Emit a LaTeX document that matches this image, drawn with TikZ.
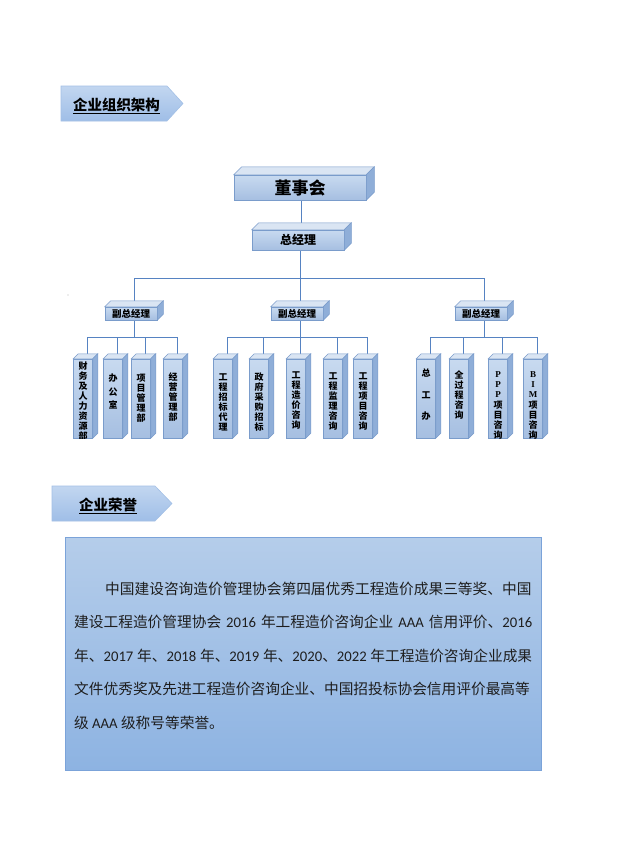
\documentclass[tikz,border=0pt]{standalone}
\usepackage{fontspec}
\setmainfont{Liberation Serif}
\newfontfamily\cjk{Noto Sans CJK SC}
\newfontfamily\lat{Carlito}
\newfontfamily\latb{Liberation Serif}
\usetikzlibrary{calc}
\pgfdeclarelayer{bg}
\pgfsetlayers{bg,main}
\definecolor{frontTop}{HTML}{C8DAF0}
\definecolor{frontBot}{HTML}{A6BFE1}
\definecolor{topFace}{HTML}{DAE5F3}
\definecolor{sideFace}{HTML}{8FAED8}
\definecolor{edgeC}{HTML}{7A9CCB}
\definecolor{connC}{HTML}{5683C2}
\definecolor{honTop}{HTML}{B5CDEA}
\definecolor{honBot}{HTML}{8DB3E2}
\definecolor{honEdge}{HTML}{7BA3D9}
\definecolor{hdrTop}{HTML}{C2D6F0}
\definecolor{hdrBot}{HTML}{9FBEE7}
\definecolor{hdrEdge}{HTML}{A3C0E6}
\definecolor{txtC}{HTML}{1E1E1E}
\tikzset{
  frontbox/.style={draw=edgeC, line width=0.5pt, top color=frontTop, bottom color=frontBot, inner sep=0pt},
  dept/.style={frontbox, minimum width=19pt, minimum height=79pt},
  vicebox/.style={frontbox, minimum width=52pt, minimum height=13pt, font=\cjk\bfseries\fontsize{9.5}{10}\selectfont},
  vtxt/.style={inner sep=0pt, align=center, text=black},
  conn/.style={draw=connC, line width=0.9pt},
  topf/.style={fill=topFace, draw=edgeC, line width=0.5pt},
  sidef/.style={fill=sideFace, draw=edgeC, line width=0.5pt},
  hdr/.style={top color=hdrTop, bottom color=hdrBot, draw=hdrEdge, line width=0.6pt},
  hdrtxt/.style={inner sep=0pt, font=\cjk\bfseries\fontsize{14.5}{16}\selectfont, text=black},
  body/.style={inner sep=0pt, anchor=base west, text=txtC, font=\cjk\fontsize{14.7}{17}\selectfont},
}
\newcommand\cubefaces[2]{%
  \filldraw[topf] (#1.north west) -- ++(#2,-#2) -- ($(#1.north east)+(#2,-#2)$) -- (#1.north east) -- cycle;
  \filldraw[sidef] (#1.north east) -- ++(#2,-#2) -- ($(#1.south east)+(#2,-#2)$) -- (#1.south east) -- cycle;
}
\newcommand\deptbox[5]{%
  \node[dept] (#1) at (#2,398.5) {};
  \cubefaces{#1}{5}
  \begin{scope}
    \clip (#1.north west) rectangle (#1.south east);
    \node[vtxt, font=\cjk\bfseries\fontsize{9}{#4}\selectfont, anchor=north] (#1t) at (#2,#3-4) {#5};
  \end{scope}
}
\begin{document}
\begin{tikzpicture}[x=1pt,y=-1pt]
\begin{pgfonlayer}{bg}
\fill[white] (0,0) rectangle (622,855);
\end{pgfonlayer}
\useasboundingbox (0,0) rectangle (622,855);

% header 1
\shadedraw[hdr] (61,86) -- (167,86) -- (183,103.5) -- (167,121) -- (61,121) -- cycle;
\node[hdrtxt] (h1) at (116.5,106) {\underline{企业组织架构}};

% top boxes
\node[frontbox, minimum width=132pt, minimum height=25pt, font=\cjk\bfseries\fontsize{17}{18}\selectfont] (dsh) at (300,187.5) {董事会};
\cubefaces{dsh}{8}
\node[frontbox, minimum width=92pt, minimum height=20pt, font=\cjk\bfseries\fontsize{12}{13}\selectfont] (zjl) at (298,240) {总经理};
\cubefaces{zjl}{7}

% vice boxes
\node[vicebox] (v1) at (131,313.5) {副总经理};
\cubefaces{v1}{6}
\node[vicebox] (v2) at (297,313.5) {副总经理};
\cubefaces{v2}{6}
\node[vicebox] (v3) at (481,313.5) {副总经理};
\cubefaces{v3}{6}

% departments
\deptbox{a1}{83}{366}{10}{财\\务\\及\\人\\力\\资\\源\\部}
\deptbox{a2}{113}{378}{13.5}{办\\公\\室}
\deptbox{a3}{141}{378}{10}{项\\目\\管\\理\\部}
\deptbox{a4}{173}{377}{10}{经\\营\\管\\理\\部}
\deptbox{b1}{223}{377}{10}{工\\程\\招\\标\\代\\理}
\deptbox{b2}{259}{377}{10}{政\\府\\采\\购\\招\\标}
\deptbox{b3}{296}{375}{10}{工\\程\\造\\价\\咨\\询}
\deptbox{b4}{333}{376}{10}{工\\程\\监\\理\\咨\\询}
\deptbox{b5}{363}{376}{10}{工\\程\\项\\目\\咨\\询}
\deptbox{c1}{426}{373}{21.5}{总\\工\\办}
\deptbox{c2}{459}{375}{10}{全\\过\\程\\咨\\询}
\deptbox{c3}{498}{375}{10.3}{{\latb\bfseries P}\\{\latb\bfseries P}\\{\latb\bfseries P}\\项\\目\\咨\\询}
\deptbox{c4}{533}{375}{10.3}{{\latb\bfseries B}\\{\latb\bfseries I}\\{\latb\bfseries M}\\项\\目\\咨\\询}

\fill[gray!55] (68,295) circle (0.7);

% connectors
\coordinate (bus) at (300,278);
\coordinate (g1) at (134,337);
\coordinate (g2) at (300,337);
\coordinate (g3) at (484,337);
\begin{pgfonlayer}{bg}
  \draw[conn] ([xshift=1pt]dsh.south) -- ([xshift=3pt]zjl.north);
  \draw[conn] ([xshift=2pt]zjl.south) -- (bus);
  \draw[conn] ([xshift=3pt]v1.north) |- (bus);
  \draw[conn] ([xshift=3pt]v2.north) |- (bus);
  \draw[conn] ([xshift=3pt]v3.north) |- (bus);
  \draw[conn] ([xshift=3pt]v1.south) -- (g1);
  \draw[conn] ([xshift=3pt]v2.south) -- (g2);
  \draw[conn] ([xshift=3pt]v3.south) -- (g3);
  \foreach \c in {a1,a2,a3,a4} \draw[conn] ([xshift=4pt]\c.north) |- (g1);
  \foreach \c in {b1,b2,b3,b4,b5} \draw[conn] ([xshift=4pt]\c.north) |- (g2);
  \foreach \c in {c1,c2,c3,c4} \draw[conn] ([xshift=4pt]\c.north) |- (g3);
\end{pgfonlayer}

% header 2
\shadedraw[hdr] (52,486) -- (155,486) -- (172,503.5) -- (155,521) -- (52,521) -- cycle;
\node[hdrtxt] (h2) at (108,506) {\underline{企业荣誉}};

% honour box
\node[draw=honEdge, line width=0.8pt, top color=honTop, bottom color=honBot, minimum width=476pt, minimum height=233pt, inner sep=0pt] (hon) at (303,653.5) {};
\node[body] (l1) at (105,594) {中国建设咨询造价管理协会第四届优秀工程造价成果三等奖、中国};
\node[body] (l2) at (74,627.5) {\makebox[458pt][s]{建设工程造价管理协会 {\lat 2016} 年工程造价咨询企业 {\lat AAA} 信用评价、{\lat 2016}}};
\node[body] (l3) at (74,661) {\makebox[458pt][s]{年、{\lat 2017} 年、{\lat 2018} 年、{\lat 2019} 年、{\lat 2020}、{\lat 2022} 年工程造价咨询企业成果}};
\node[body] (l4) at (74,694.5) {文件优秀奖及先进工程造价咨询企业、中国招投标协会信用评价最高等};
\node[body] (l5) at (74,728) {级 {\lat AAA} 级称号等荣誉。};
\end{tikzpicture}
\end{document}
